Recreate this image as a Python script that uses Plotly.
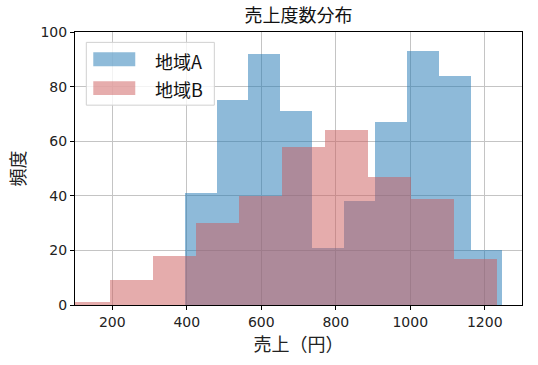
import plotly.graph_objects as go

# Histogram data (bin left edges, bin width, counts)
a_edges = [395.0, 480.2, 565.4, 650.6, 735.8, 821.0, 906.2, 991.4, 1076.6, 1161.8]
a_width = 85.2
a_counts = [41, 75, 92, 71, 21, 38, 67, 93, 84, 20]

b_edges = [80.0, 195.2, 310.4, 425.6, 540.8, 656.0, 771.2, 886.4, 1001.6, 1116.8]
b_width = 115.2
b_counts = [1, 9, 18, 30, 40, 58, 64, 47, 39, 17]

series_names = ["地域A", "地域B"]
series_colors = ["#1f77b4", "indianred"]
x_ticks = [200, 400, 600, 800, 1000, 1200]
y_ticks = [0, 20, 40, 60, 80, 100]

FONT = "Noto Sans CJK JP"

fig = go.Figure()
fig.add_trace(go.Bar(
    x=[e + a_width / 2 for e in a_edges], y=a_counts, width=[a_width] * len(a_edges),
    name=series_names[0], marker=dict(color=series_colors[0], line=dict(width=0)), opacity=0.5,
    showlegend=False,
))
fig.add_trace(go.Bar(
    x=[e + b_width / 2 for e in b_edges], y=b_counts, width=[b_width] * len(b_edges),
    name=series_names[1], marker=dict(color=series_colors[1], line=dict(width=0)), opacity=0.5,
    showlegend=False,
))

axis_common = dict(
    showline=True, linecolor="black", linewidth=1, mirror=True,
    ticks="outside", ticklen=4, tickcolor="black",
    showgrid=True, gridcolor="#c4c4c4", gridwidth=0.8,
    zeroline=False, layer="above traces",
    tickfont=dict(family="DejaVu Sans", size=14, color="#222"),
)

# Custom legend (matplotlib-style wide swatches)
shapes = [dict(type="rect", xref="paper", yref="paper", x0=0.0253, x1=0.3117, y0=0.732, y1=0.962,
               fillcolor="rgba(255,255,255,0.8)", line=dict(color="#d0d0d0", width=1), layer="above")]
swatch_y = [(0.875, 0.926), (0.769, 0.820)]
text_y = [0.895, 0.790]
annotations = []
for name, col, (y0, y1), ty in zip(series_names, series_colors, swatch_y, text_y):
    shapes.append(dict(type="rect", xref="paper", yref="paper", x0=0.0409, x1=0.1348, y0=y0, y1=y1,
                       fillcolor=col, opacity=0.5, line=dict(width=0), layer="above"))
    annotations.append(dict(text=name, xref="paper", yref="paper", x=0.175, y=ty,
                            xanchor="left", yanchor="middle", showarrow=False,
                            font=dict(family=FONT, size=18, color="#111")))

fig.update_layout(
    width=538, height=365,
    margin=dict(l=75, r=16, t=32, b=60),
    barmode="overlay", bargap=0,
    plot_bgcolor="white", paper_bgcolor="white",
    title=dict(text="売上度数分布", x=0.5, xref="paper", xanchor="center", y=1 - 16 / 365, yref="container",
               yanchor="middle", font=dict(family=FONT, size=18, color="#111")),
    xaxis=dict(range=[100, 1300], tickvals=x_ticks,
               title=dict(text="売上（円）", font=dict(family=FONT, size=18, color="#222"), standoff=6),
               **axis_common),
    yaxis=dict(range=[0, 100], tickvals=y_ticks,
               title=dict(text="頻度", font=dict(family=FONT, size=18, color="#222"), standoff=10),
               **axis_common),
    shapes=shapes,
    annotations=annotations,
)

fig.write_html("out.html", post_script="document.body.style.margin='0';",
               config={"displayModeBar": False})
